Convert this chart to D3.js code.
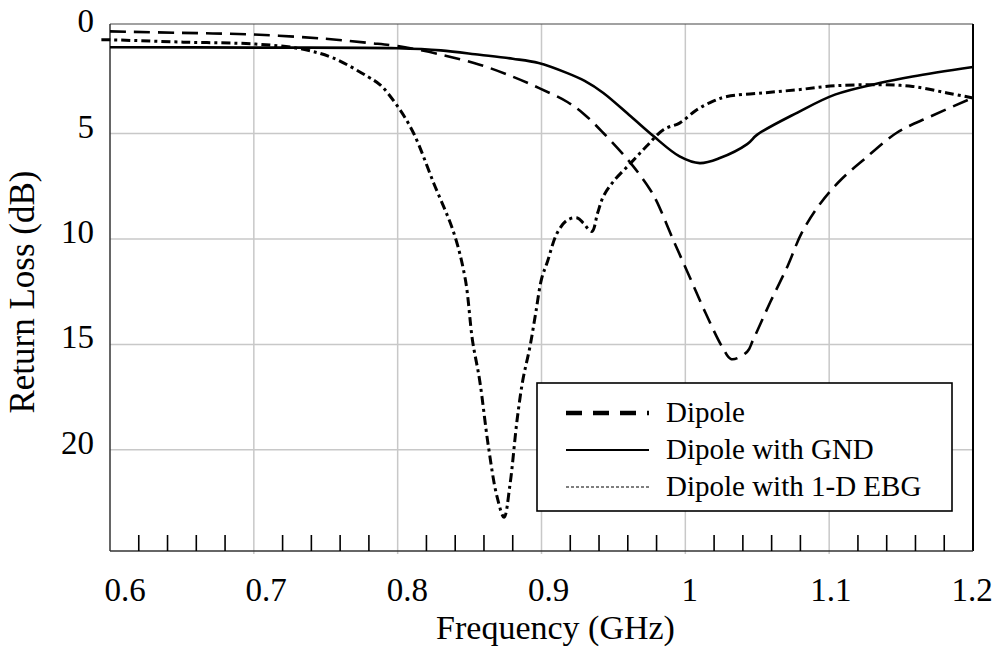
<!DOCTYPE html>
<html>
<head>
<meta charset="utf-8">
<script src="https://cdn.jsdelivr.net/npm/d3@7"></script>
<style>
  body { margin: 0; background: #fff; }
  text { font-family: "Liberation Serif", "DejaVu Serif", serif; fill: #000; }
</style>
</head>
<body>
<div id="chart"></div>
<script>
// Return loss curves (frequency GHz, return loss dB)
const dipole = [
  [0.600, 0.15], [0.650, 0.22], [0.700, 0.30], [0.750, 0.50], [0.780, 0.70],
  [0.800, 0.85], [0.830, 1.25], [0.857, 1.73], [0.880, 2.30], [0.898, 2.83],
  [0.918, 3.50], [0.930, 4.10], [0.943, 4.97], [0.962, 6.40], [0.975, 7.60],
  [0.980, 8.20], [0.991, 9.95], [1.003, 11.80], [1.014, 13.50], [1.026, 15.16],
  [1.032, 15.70], [1.043, 15.35], [1.047, 14.80], [1.059, 13.00], [1.071, 11.30],
  [1.081, 9.70], [1.094, 8.30], [1.108, 7.20], [1.124, 6.24], [1.147, 4.96],
  [1.170, 4.20], [1.200, 3.30]
];
const dipoleGnd = [
  [0.600, 0.90], [0.700, 0.92], [0.800, 0.95], [0.830, 1.05], [0.857, 1.26],
  [0.880, 1.45], [0.898, 1.65], [0.918, 2.13], [0.930, 2.50], [0.943, 3.07],
  [0.962, 4.18], [0.978, 5.13], [0.996, 6.08], [1.010, 6.40], [1.024, 6.16],
  [1.043, 5.50], [1.050, 5.05], [1.078, 4.00], [1.104, 3.15], [1.135, 2.60],
  [1.158, 2.29], [1.200, 1.84]
];
const dipoleEbg = [
  [0.594, 0.55], [0.600, 0.55], [0.651, 0.66], [0.701, 0.75], [0.732, 0.97],
  [0.755, 1.41], [0.779, 2.29], [0.788, 2.70], [0.800, 3.71], [0.811, 4.97],
  [0.825, 7.34], [0.839, 9.70], [0.847, 11.9], [0.852, 14.8], [0.857, 16.7],
  [0.863, 19.8], [0.869, 22.2], [0.874, 23.2], [0.878, 21.7], [0.883, 18.6],
  [0.887, 16.7], [0.892, 15.1], [0.896, 13.5], [0.900, 11.9], [0.904, 11.1],
  [0.911, 9.70], [0.918, 9.10], [0.925, 9.00], [0.929, 9.24], [0.935, 9.64],
  [0.939, 8.77], [0.943, 7.98], [0.950, 7.27], [0.962, 6.40], [0.973, 5.60],
  [0.985, 4.80], [0.996, 4.50], [1.008, 3.87], [1.019, 3.47], [1.029, 3.24],
  [1.054, 3.07], [1.078, 2.92], [1.104, 2.73], [1.135, 2.68], [1.158, 2.76],
  [1.182, 3.07], [1.200, 3.31]
];

const xTicks = [0.6, 0.7, 0.8, 0.9, 1, 1.1, 1.2];
const yTicks = [0, 5, 10, 15, 20];
const legendLabels = ["Dipole", "Dipole with GND", "Dipole with 1-D EBG"];

// Layout
const fullWidth = 997, fullHeight = 662;
const margin = { top: 24, right: 24, bottom: 111, left: 110 };
const width = fullWidth - margin.left - margin.right;
const height = fullHeight - margin.top - margin.bottom;
const serif = "'Liberation Serif', 'DejaVu Serif', serif";

const svg = d3.select("#chart").append("svg")
  .attr("width", fullWidth)
  .attr("height", fullHeight)
  .style("display", "block");

const g = svg.append("g").attr("transform", `translate(${margin.left},${margin.top})`);

const x = d3.scaleLinear().domain([0.6, 1.2]).range([0, width]);
const y = d3.scaleLinear().domain([-0.2, 24.8]).range([0, height]);
// tick labels in the original sit slightly inset from their grid lines
const xLabel = d3.scaleLinear().domain([0.6, 1.2]).range([15, width - 1]);

// Grid
g.selectAll(".vgrid")
  .data(xTicks.filter(d => d > 0.6 && d < 1.2))
  .join("line")
  .attr("x1", d => x(d)).attr("x2", d => x(d))
  .attr("y1", 0).attr("y2", height + 3)
  .attr("stroke", "#c8c8c8").attr("stroke-width", 1.5);

g.selectAll(".hgrid")
  .data(yTicks.filter(d => d > 0))
  .join("line")
  .attr("x1", 0).attr("x2", width)
  .attr("y1", d => y(d)).attr("y2", d => y(d))
  .attr("stroke", "#c8c8c8").attr("stroke-width", 1.5);

// Frame
g.append("line").attr("x1", 0).attr("x2", width).attr("y1", 0).attr("y2", 0)
  .attr("stroke", "#444").attr("stroke-width", 1.2);
g.append("line").attr("x1", width).attr("x2", width).attr("y1", 0).attr("y2", height)
  .attr("stroke", "#000").attr("stroke-width", 2);
g.append("line").attr("x1", 0).attr("x2", 0).attr("y1", 0).attr("y2", height)
  .attr("stroke", "#333").attr("stroke-width", 1.5);
g.append("line").attr("x1", 0).attr("x2", width).attr("y1", height).attr("y2", height)
  .attr("stroke", "#333").attr("stroke-width", 1.5);

// Minor ticks every 0.02 GHz, pointing up
const minor = d3.range(31).map(i => 0.6 + i * 0.02)
  .filter(d => Math.abs(Math.round(d * 10) - d * 10) > 1e-6);
g.selectAll(".minor")
  .data(minor)
  .join("line")
  .attr("x1", d => x(d)).attr("x2", d => x(d))
  .attr("y1", height).attr("y2", height - 16)
  .attr("stroke", "#000").attr("stroke-width", 1.6);

// Tick labels
g.selectAll(".xlab")
  .data(xTicks)
  .join("text")
  .attr("x", d => xLabel(d))
  .attr("y", height + 50)
  .attr("text-anchor", "middle")
  .attr("font-family", serif)
  .style("font-size", "33px")
  .text(d => d);

g.selectAll(".ylab")
  .data(yTicks)
  .join("text")
  .attr("x", -16)
  .attr("y", d => y(d) + 4)
  .attr("text-anchor", "end")
  .attr("font-family", serif)
  .style("font-size", "33px")
  .text(d => d);

// Axis titles
g.append("text")
  .attr("x", width / 2 + 14)
  .attr("y", height + 88)
  .attr("text-anchor", "middle")
  .attr("font-family", serif)
  .style("font-size", "34px")
  .text("Frequency (GHz)");

svg.append("text")
  .attr("transform", "translate(34, 292) rotate(-90)")
  .attr("text-anchor", "middle")
  .attr("font-family", serif)
  .style("font-size", "35px")
  .text("Return Loss (dB)");

// Curves
const line = d3.line()
  .x(d => x(d[0]))
  .y(d => y(d[1]))
  .curve(d3.curveCatmullRom.alpha(0.5));

const series = [
  { data: dipole, dash: "16,8", w: 2.6 },
  { data: dipoleGnd, dash: null, w: 2.6 },
  { data: dipoleEbg, dash: "9,4,3,4", w: 3 }
];

g.selectAll(".curve")
  .data(series)
  .join("path")
  .attr("d", d => line(d.data))
  .attr("fill", "none")
  .attr("stroke", "#000")
  .attr("stroke-width", d => d.w)
  .attr("stroke-dasharray", d => d.dash);

// Legend
const legend = g.append("g").attr("transform", `translate(${537 - margin.left},${383 - margin.top})`);
legend.append("rect")
  .attr("width", 415).attr("height", 128)
  .attr("fill", "#fff").attr("stroke", "#000").attr("stroke-width", 1.6);

const legendStyles = [
  { dash: "16,11,16,11,16,11,2,11", w: 4.5 },
  { dash: null, w: 2 },
  { dash: "3,2", w: 1.2 }
];

legend.selectAll(".lgline")
  .data(legendStyles)
  .join("line")
  .attr("x1", 29).attr("x2", d => d.dash && d.w > 3 ? 116 : 112)
  .attr("y1", (d, i) => 30 + i * 37).attr("y2", (d, i) => 30 + i * 37)
  .attr("stroke", "#000")
  .attr("stroke-width", d => d.w)
  .attr("stroke-dasharray", d => d.dash);

legend.selectAll(".lgtext")
  .data(legendLabels)
  .join("text")
  .attr("x", 129)
  .attr("y", (d, i) => 39 + i * 37)
  .attr("font-family", serif)
  .style("font-size", "29px")
  .text(d => d);
</script>
</body>
</html>
